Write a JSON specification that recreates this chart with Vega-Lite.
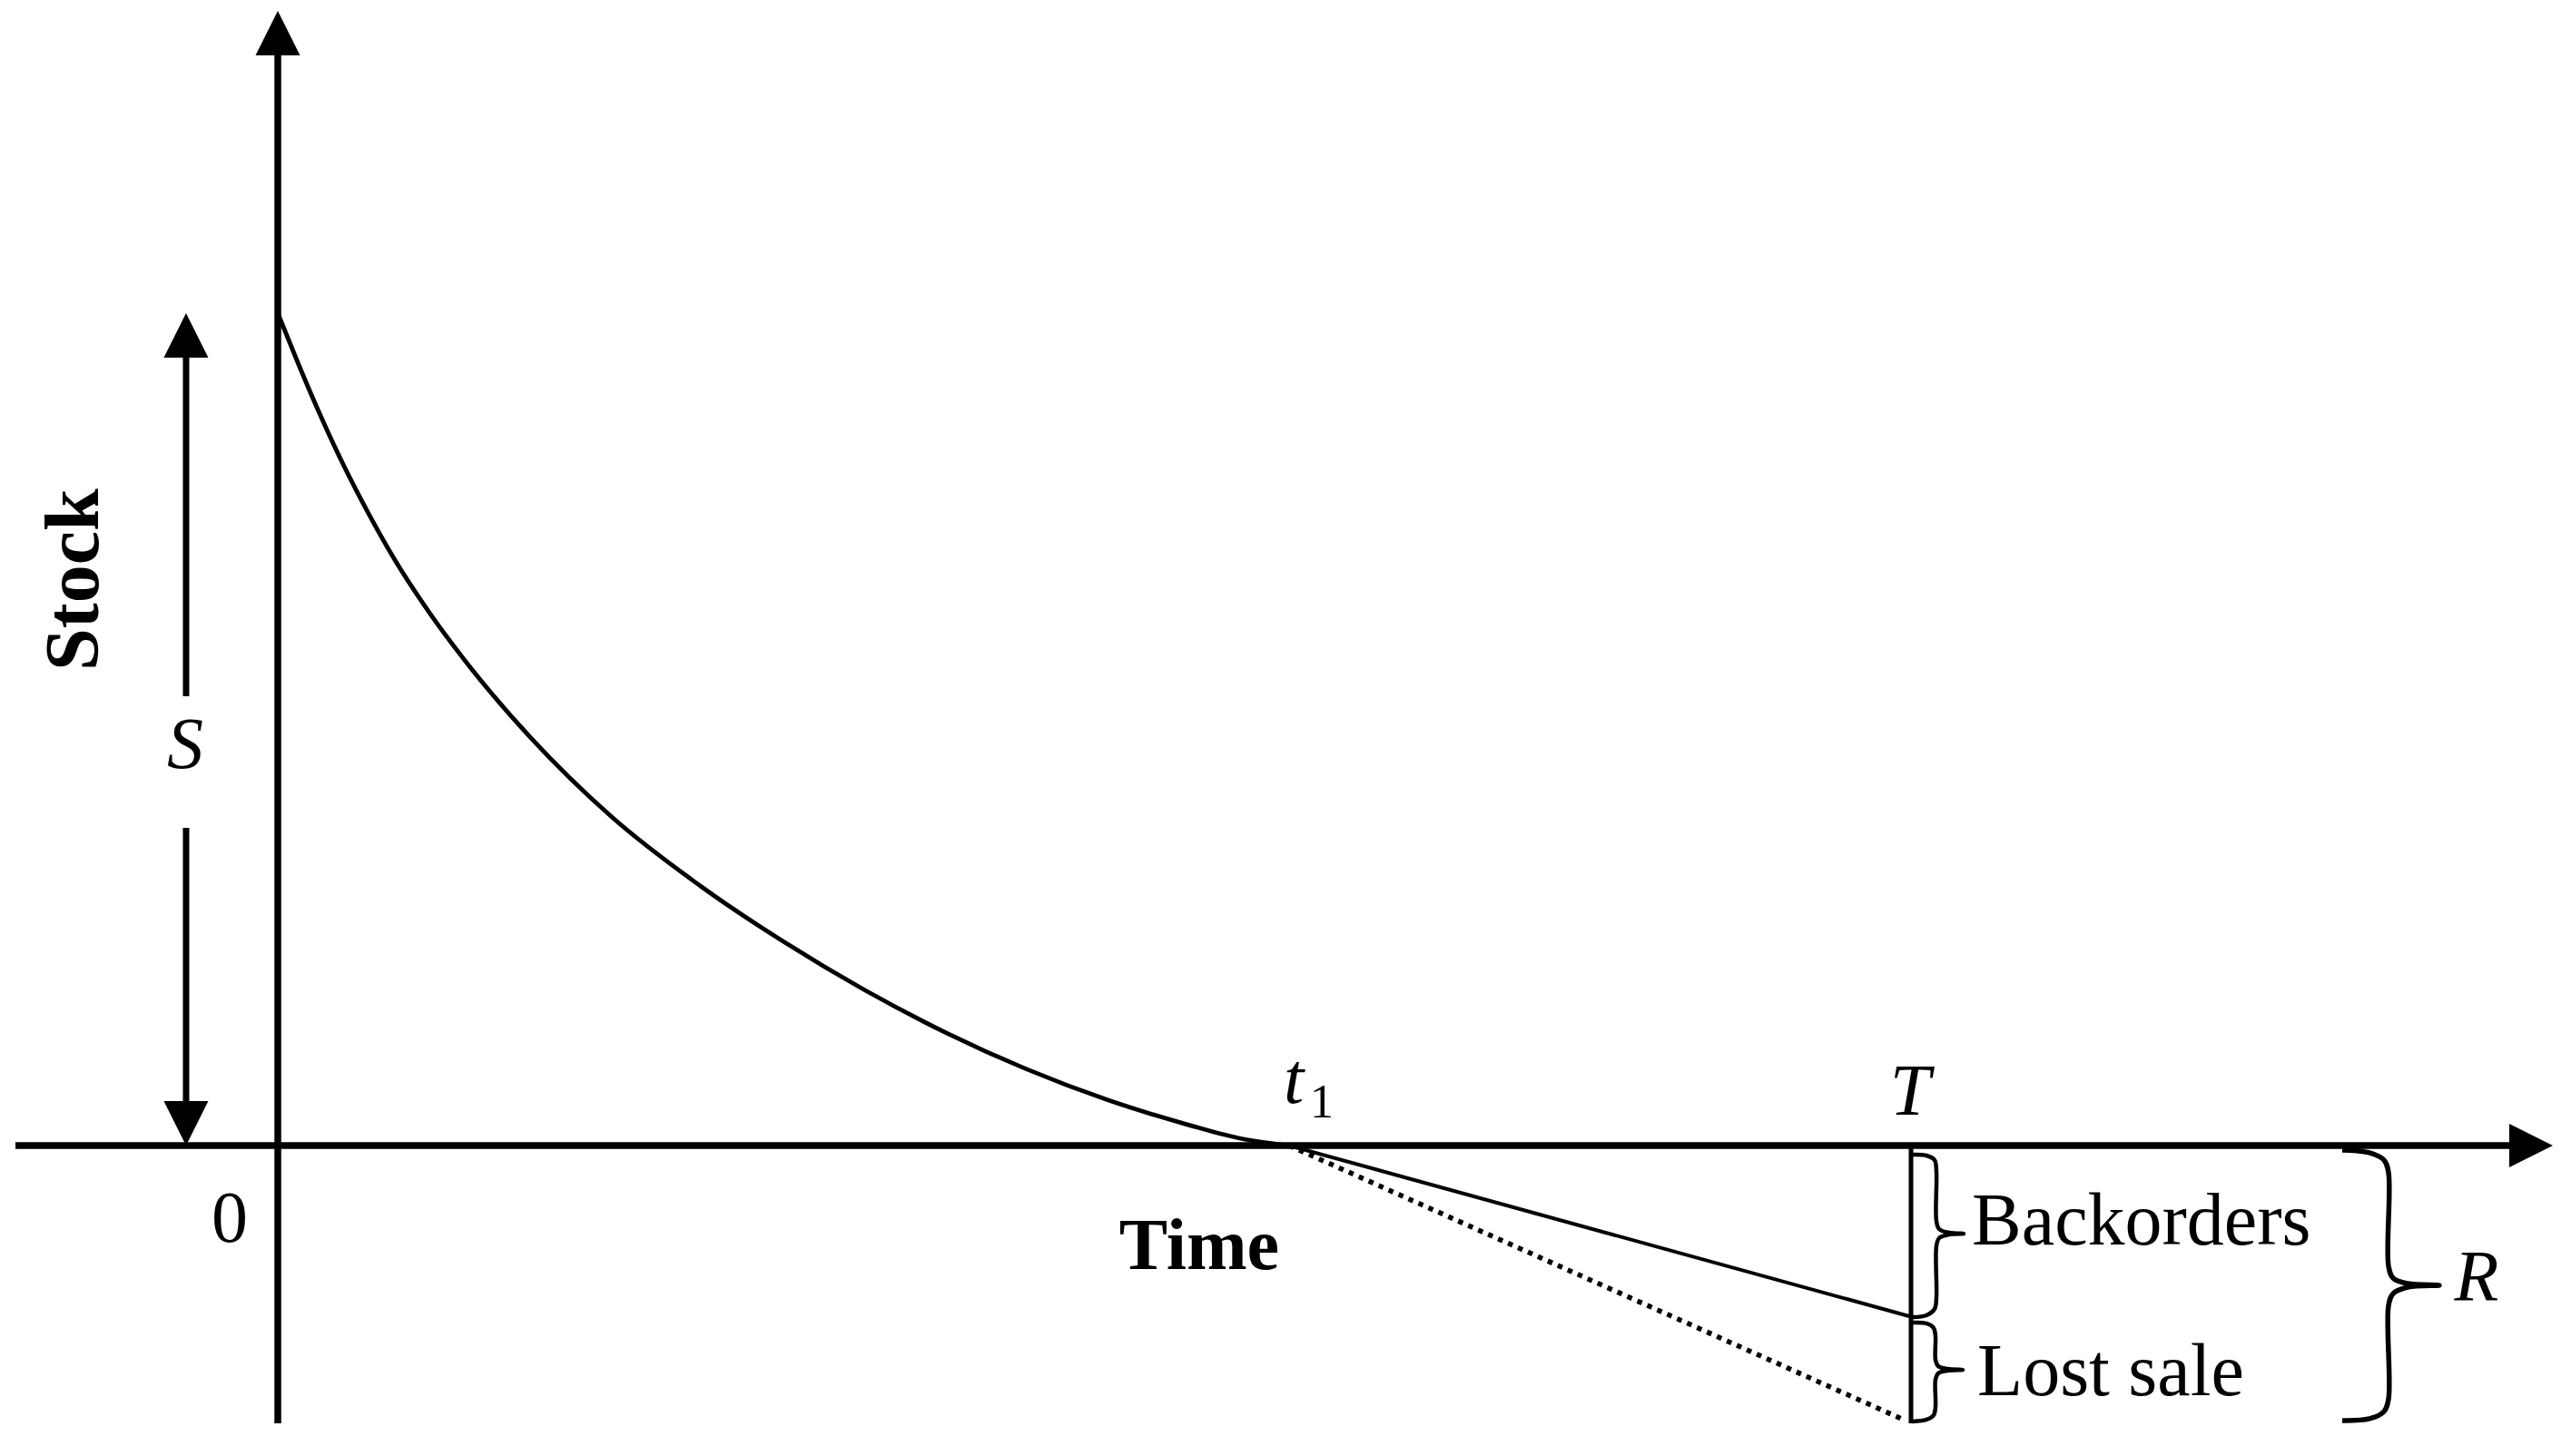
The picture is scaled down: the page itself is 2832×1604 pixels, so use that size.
{
  "$schema": "https://vega.github.io/schema/vega-lite/v6.json",
  "width": 2832,
  "height": 1604,
  "padding": 0,
  "autosize": {"type": "none"},
  "background": "white",
  "config": {"view": {"stroke": null}},
  "datasets": {
    "curve": [
      {"t": 0.0, "stock": 1.0},
      {"t": 0.02, "stock": 0.94},
      {"t": 0.04, "stock": 0.883},
      {"t": 0.06, "stock": 0.83},
      {"t": 0.085, "stock": 0.77},
      {"t": 0.115, "stock": 0.705},
      {"t": 0.15, "stock": 0.64},
      {"t": 0.19, "stock": 0.575},
      {"t": 0.25, "stock": 0.49},
      {"t": 0.33, "stock": 0.395},
      {"t": 0.42, "stock": 0.31},
      {"t": 0.50, "stock": 0.245},
      {"t": 0.58, "stock": 0.187},
      {"t": 0.66, "stock": 0.136},
      {"t": 0.74, "stock": 0.092},
      {"t": 0.82, "stock": 0.055},
      {"t": 0.90, "stock": 0.025},
      {"t": 0.95, "stock": 0.009},
      {"t": 1.0, "stock": 0.0}
    ],
    "segments": [
      {"name": "yaxis", "t": 0.0, "stock": -0.3337, "t2": 0.0, "stock2": 1.315},
      {"name": "xaxis", "t": -0.2594, "stock": 0.0, "t2": 2.21, "stock2": 0.0},
      {"name": "sup", "t": -0.0907, "stock": 0.955, "t2": -0.0907, "stock2": 0.5398},
      {"name": "sdown", "t": -0.0907, "stock": 0.3817, "t2": -0.0907, "stock2": 0.045},
      {"name": "tline", "t": 1.6149, "stock": 0.0, "t2": 1.6149, "stock2": -0.3337},
      {"name": "backorders", "t": 1.0, "stock": 0.0, "t2": 1.6131, "stock2": -0.2050},
      {"name": "lost", "t": 1.0, "stock": 0.0, "t2": 1.6095, "stock2": -0.3304}
    ],
    "heads": [
      {"dir": "up", "t": 0.0, "stock": 1.3364},
      {"dir": "up", "t": -0.0907, "stock": 0.9733},
      {"dir": "down", "t": -0.0907, "stock": 0.0267},
      {"dir": "right", "t": 2.228, "stock": 0.0}
    ],
    "braces": [
      {"id": "b", "i": 1, "t": 1.6167, "stock": -0.0109},
      {"id": "b", "i": 2, "t": 1.6302, "stock": -0.0120},
      {"id": "b", "i": 3, "t": 1.6382, "stock": -0.0174},
      {"id": "b", "i": 4, "t": 1.6400, "stock": -0.0305},
      {"id": "b", "i": 5, "t": 1.6400, "stock": -0.0905},
      {"id": "b", "i": 6, "t": 1.6427, "stock": -0.1003},
      {"id": "b", "i": 7, "t": 1.6526, "stock": -0.1047},
      {"id": "b", "i": 8, "t": 1.6670, "stock": -0.1058},
      {"id": "b", "i": 9, "t": 1.6526, "stock": -0.1069},
      {"id": "b", "i": 10, "t": 1.6427, "stock": -0.1112},
      {"id": "b", "i": 11, "t": 1.6400, "stock": -0.1210},
      {"id": "b", "i": 12, "t": 1.6400, "stock": -0.1832},
      {"id": "b", "i": 13, "t": 1.6382, "stock": -0.1963},
      {"id": "b", "i": 14, "t": 1.6302, "stock": -0.2039},
      {"id": "b", "i": 15, "t": 1.6167, "stock": -0.2061},
      {"id": "l", "i": 1, "t": 1.6167, "stock": -0.2126},
      {"id": "l", "i": 2, "t": 1.6302, "stock": -0.2137},
      {"id": "l", "i": 3, "t": 1.6373, "stock": -0.2192},
      {"id": "l", "i": 4, "t": 1.6391, "stock": -0.2290},
      {"id": "l", "i": 5, "t": 1.6391, "stock": -0.2574},
      {"id": "l", "i": 6, "t": 1.6418, "stock": -0.2650},
      {"id": "l", "i": 7, "t": 1.6508, "stock": -0.2683},
      {"id": "l", "i": 8, "t": 1.6661, "stock": -0.2694},
      {"id": "l", "i": 9, "t": 1.6508, "stock": -0.2705},
      {"id": "l", "i": 10, "t": 1.6418, "stock": -0.2737},
      {"id": "l", "i": 11, "t": 1.6391, "stock": -0.2814},
      {"id": "l", "i": 12, "t": 1.6391, "stock": -0.3141},
      {"id": "l", "i": 13, "t": 1.6373, "stock": -0.3239},
      {"id": "l", "i": 14, "t": 1.6302, "stock": -0.3293},
      {"id": "l", "i": 15, "t": 1.6167, "stock": -0.3315},
      {"id": "r", "i": 1, "t": 2.0413, "stock": -0.0055},
      {"id": "r", "i": 2, "t": 2.0682, "stock": -0.0087},
      {"id": "r", "i": 3, "t": 2.0826, "stock": -0.0174},
      {"id": "r", "i": 4, "t": 2.0871, "stock": -0.0327},
      {"id": "r", "i": 5, "t": 2.0871, "stock": -0.1450},
      {"id": "r", "i": 6, "t": 2.0916, "stock": -0.1592},
      {"id": "r", "i": 7, "t": 2.1059, "stock": -0.1658},
      {"id": "r", "i": 8, "t": 2.1373, "stock": -0.1679},
      {"id": "r", "i": 9, "t": 2.1059, "stock": -0.1701},
      {"id": "r", "i": 10, "t": 2.0916, "stock": -0.1778},
      {"id": "r", "i": 11, "t": 2.0871, "stock": -0.1919},
      {"id": "r", "i": 12, "t": 2.0871, "stock": -0.3043},
      {"id": "r", "i": 13, "t": 2.0826, "stock": -0.3195},
      {"id": "r", "i": 14, "t": 2.0682, "stock": -0.3282},
      {"id": "r", "i": 15, "t": 2.0413, "stock": -0.3304}
    ],
    "labels": [
      {"style": "roman", "label": "Backorders", "t": 1.6751, "stock": -0.1189},
      {"style": "roman", "label": "Lost sale", "t": 1.6805, "stock": -0.2999},
      {"style": "zero", "label": "0", "t": -0.0476, "stock": -0.1156},
      {"style": "bold", "label": "Time", "t": 0.9111, "stock": -0.1483},
      {"style": "rotated", "label": "Stock", "t": -0.1777, "stock": 0.6799},
      {"style": "italic", "label": "S", "t": -0.0916, "stock": 0.4537},
      {"style": "italic", "label": "T", "t": 1.6140, "stock": 0.0371},
      {"style": "italic", "label": "R", "t": 2.1741, "stock": -0.1865},
      {"style": "italic", "label": "t", "t": 1.0045, "stock": 0.0513},
      {"style": "sub", "label": "1", "t": 1.0323, "stock": 0.0338}
    ]
  },
  "encoding": {
    "x": {"field": "t", "type": "quantitative", "scale": {"domain": [-0.27469, 2.2675], "nice": false, "zero": false}, "axis": null},
    "y": {"field": "stock", "type": "quantitative", "scale": {"domain": [-0.37296, 1.37623], "nice": false, "zero": false}, "axis": null}
  },
  "layer": [
    {
      "data": {"name": "segments"},
      "transform": [{"filter": "datum.name === 'yaxis' || datum.name === 'xaxis'"}],
      "mark": {"type": "rule", "color": "black", "strokeWidth": 7.5, "strokeCap": "butt"},
      "encoding": {"x2": {"field": "t2"}, "y2": {"field": "stock2"}}
    },
    {
      "data": {"name": "segments"},
      "transform": [{"filter": "datum.name === 'sup' || datum.name === 'sdown'"}],
      "mark": {"type": "rule", "color": "black", "strokeWidth": 7, "strokeCap": "butt"},
      "encoding": {"x2": {"field": "t2"}, "y2": {"field": "stock2"}}
    },
    {
      "data": {"name": "segments"},
      "transform": [{"filter": "datum.name === 'tline'"}],
      "mark": {"type": "rule", "color": "black", "strokeWidth": 5, "strokeCap": "butt"},
      "encoding": {"x2": {"field": "t2"}, "y2": {"field": "stock2"}}
    },
    {
      "data": {"name": "segments"},
      "transform": [{"filter": "datum.name === 'backorders'"}],
      "mark": {"type": "rule", "color": "black", "strokeWidth": 4, "strokeCap": "butt"},
      "encoding": {"x2": {"field": "t2"}, "y2": {"field": "stock2"}}
    },
    {
      "data": {"name": "segments"},
      "transform": [{"filter": "datum.name === 'lost'"}],
      "mark": {"type": "rule", "color": "black", "strokeWidth": 5.5, "strokeCap": "butt", "strokeDash": [5.5, 6.5]},
      "encoding": {"x2": {"field": "t2"}, "y2": {"field": "stock2"}}
    },
    {
      "data": {"name": "curve"},
      "mark": {"type": "line", "color": "black", "strokeWidth": 4.8, "interpolate": "monotone"},
      "encoding": {}
    },
    {
      "data": {"name": "braces"},
      "transform": [{"filter": "datum.id !== 'r'"}],
      "mark": {"type": "line", "color": "black", "strokeWidth": 4.5, "interpolate": "catmull-rom", "strokeCap": "round", "strokeJoin": "round"},
      "encoding": {"detail": {"field": "id"}, "order": {"field": "i", "type": "quantitative"}}
    },
    {
      "data": {"name": "braces"},
      "transform": [{"filter": "datum.id === 'r'"}],
      "mark": {"type": "line", "color": "black", "strokeWidth": 5.5, "interpolate": "catmull-rom", "strokeCap": "butt", "strokeJoin": "round"},
      "encoding": {"detail": {"field": "id"}, "order": {"field": "i", "type": "quantitative"}}
    },
    {
      "data": {"name": "heads"},
      "transform": [{"filter": "datum.dir === 'up'"}],
      "mark": {"type": "point", "shape": "M0,-1L1,1L-1,1Z", "size": 2401, "filled": true, "color": "black", "opacity": 1, "strokeWidth": 0}
    },
    {
      "data": {"name": "heads"},
      "transform": [{"filter": "datum.dir === 'down'"}],
      "mark": {"type": "point", "shape": "M0,1L1,-1L-1,-1Z", "size": 2401, "filled": true, "color": "black", "opacity": 1, "strokeWidth": 0}
    },
    {
      "data": {"name": "heads"},
      "transform": [{"filter": "datum.dir === 'right'"}],
      "mark": {"type": "point", "shape": "M1,0L-1,1L-1,-1Z", "size": 2304, "filled": true, "color": "black", "opacity": 1, "strokeWidth": 0}
    },
    {
      "data": {"name": "labels"},
      "transform": [{"filter": "datum.style === 'roman'"}],
      "mark": {"type": "text", "font": "Liberation Serif", "fontSize": 82, "align": "left", "baseline": "alphabetic", "color": "black"},
      "encoding": {"text": {"field": "label"}}
    },
    {
      "data": {"name": "labels"},
      "transform": [{"filter": "datum.style === 'zero'"}],
      "mark": {"type": "text", "font": "Liberation Serif", "fontSize": 80, "align": "center", "baseline": "alphabetic", "color": "black"},
      "encoding": {"text": {"field": "label"}}
    },
    {
      "data": {"name": "labels"},
      "transform": [{"filter": "datum.style === 'bold'"}],
      "mark": {"type": "text", "font": "Liberation Serif", "fontSize": 80, "fontWeight": "bold", "align": "center", "baseline": "alphabetic", "color": "black"},
      "encoding": {"text": {"field": "label"}}
    },
    {
      "data": {"name": "labels"},
      "transform": [{"filter": "datum.style === 'rotated'"}],
      "mark": {"type": "text", "font": "Liberation Serif", "fontSize": 84, "fontWeight": "bold", "angle": -90, "align": "center", "baseline": "alphabetic", "color": "black"},
      "encoding": {"text": {"field": "label"}}
    },
    {
      "data": {"name": "labels"},
      "transform": [{"filter": "datum.style === 'italic'"}],
      "mark": {"type": "text", "font": "Liberation Serif", "fontSize": 80, "fontStyle": "italic", "align": "center", "baseline": "alphabetic", "color": "black"},
      "encoding": {"text": {"field": "label"}}
    },
    {
      "data": {"name": "labels"},
      "transform": [{"filter": "datum.style === 'sub'"}],
      "mark": {"type": "text", "font": "Liberation Serif", "fontSize": 52, "align": "center", "baseline": "alphabetic", "color": "black"},
      "encoding": {"text": {"field": "label"}}
    }
  ]
}
